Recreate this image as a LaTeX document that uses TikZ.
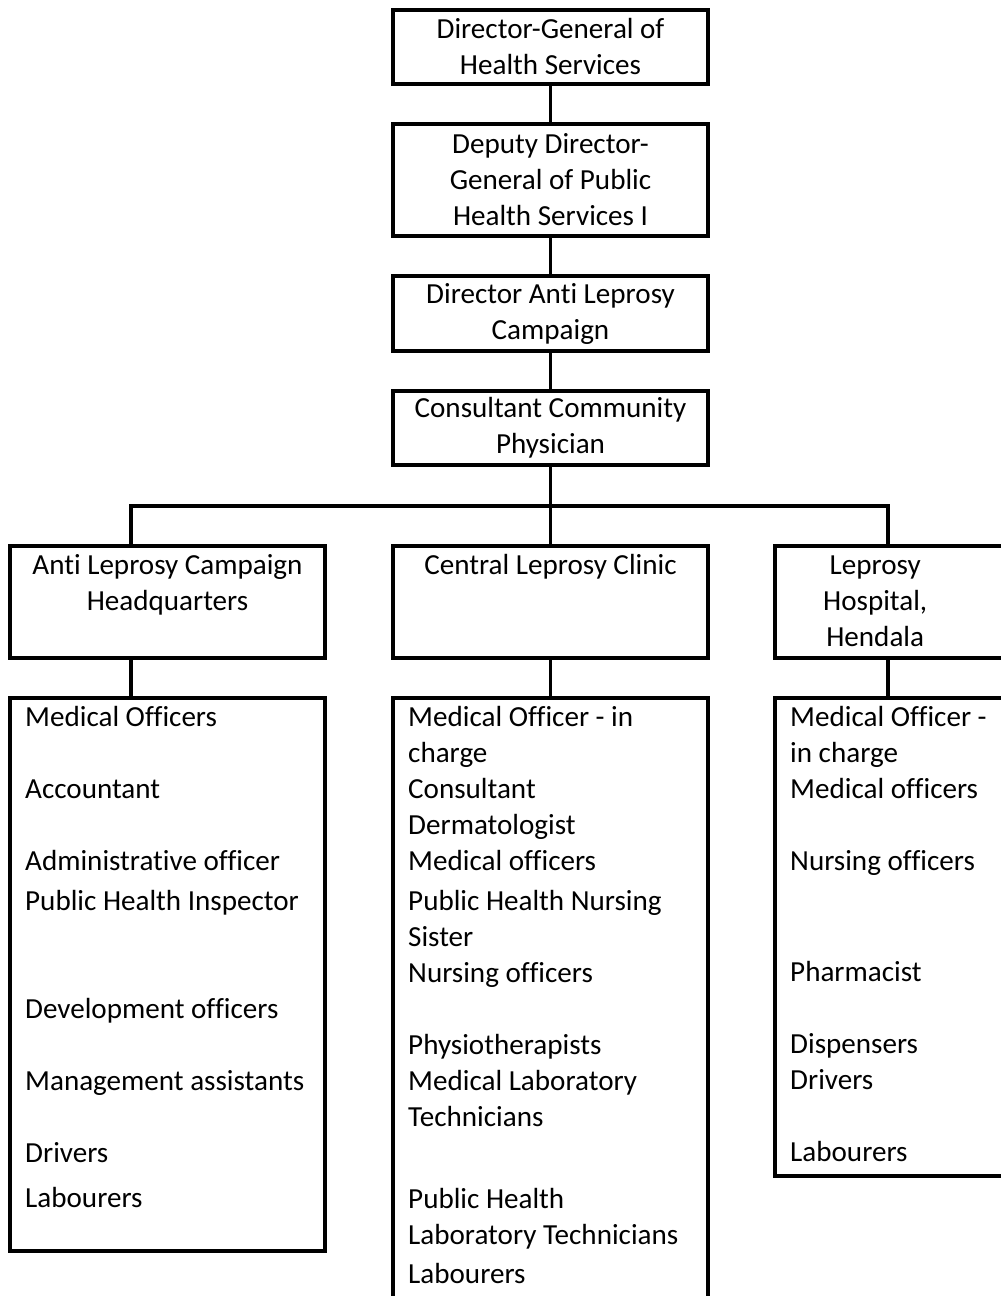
\documentclass[tikz,border=0pt]{standalone}
\usepackage{fontspec}
\setmainfont{Carlito}[Ligatures=NoCommon]
\usetikzlibrary{positioning}

\begin{document}
\begin{tikzpicture}[
    line width=2.8pt,
    node distance=1cm and 1.7cm,
    post/.style={
        rectangle,
        draw,
        font=\fontsize{20.7}{25.6}\selectfont,
        minimum width=7.875cm,
        inner sep=0pt,
        outer sep=0pt,
        align=center
    },
    unit/.style={
        rectangle,
        draw,
        font=\fontsize{20.7}{25.6}\selectfont,
        text width=7.115cm,
        inner xsep=0.38cm,
        inner ysep=0.2cm,
        outer sep=0pt,
        text height=0.52cm,
        text depth=#1
    },
    head/.style={
        unit=1.88cm,
        align=flush center
    },
    staff/.style={
        unit=#1,
        align=flush left
    }
]

    \useasboundingbox (0,0) rectangle (25,-32.4);

    % Chain of command
    \node[post, minimum height=1.85cm, anchor=north] (dg) at (13.7625,-0.25) {Director-General of\\Health Services};
    \node[post, minimum height=2.8cm, below=of dg] (ddg) {Deputy Director-\\General of Public\\Health Services I};
    \node[post, minimum height=1.875cm, below=of ddg] (dalc) {Director Anti Leprosy\\Campaign};
    \node[post, minimum height=1.85cm, below=of dalc] (ccp) {Consultant Community\\Physician};

    \draw (dg) -- (ddg);
    \draw (ddg) -- (dalc);
    \draw (dalc) -- (ccp);

    % Units
    \node[head, below=2.025cm of ccp] (clinic) {Central Leprosy Clinic};
    \node[head, left=of clinic] (hq) {Anti Leprosy Campaign\\Headquarters};
    \node[head, right=1.675cm of clinic, align=flush left] (hosp) {\parbox[t]{4.25cm}{\centering Leprosy\\Hospital,\\Hendala}};

    % Branches
    \coordinate[below=1.025cm of ccp] (bus);
    \coordinate (hqtap) at ([xshift=3.025cm]hq.north west);
    \coordinate (hosptap) at ([xshift=2.825cm]hosp.north west);
    \draw (ccp) -- (clinic);
    \draw (hqtap) |- (bus) -| (hosptap);

    % Staff lists
    \node[staff=12.905cm, below=of hq] (hqstaff) {Medical Officers\\[0.9cm]Accountant\\[0.9cm]Administrative officer\\[0.1cm]Public Health Inspector\\[1.8cm]Development officers\\[0.9cm]Management assistants\\[0.9cm]Drivers\\[0.225cm]Labourers};
    \node[staff=14.83cm, below=of clinic] (clinicstaff) {Medical Officer - in\\charge\\Consultant\\Dermatologist\\Medical officers\\[0.1cm]Public Health Nursing\\Sister\\Nursing officers\\[0.9cm]Physiotherapists\\Medical Laboratory\\Technicians\\[1.15cm]Public Health\\Laboratory Technicians\\[0.075cm]Labourers};
    \node[staff=11.03cm, below=of hosp] (hospstaff) {Medical Officer -\\in charge\\Medical officers\\[0.9cm]Nursing officers\\[1.875cm]Pharmacist\\[0.9cm]Dispensers\\Drivers\\[0.9cm]Labourers};

    \draw (hqtap |- hq.south) -- (hqtap |- hqstaff.north);
    \draw (clinic) -- (clinicstaff);
    \draw (hosptap |- hosp.south) -- (hosptap |- hospstaff.north);

\end{tikzpicture}
\end{document}
